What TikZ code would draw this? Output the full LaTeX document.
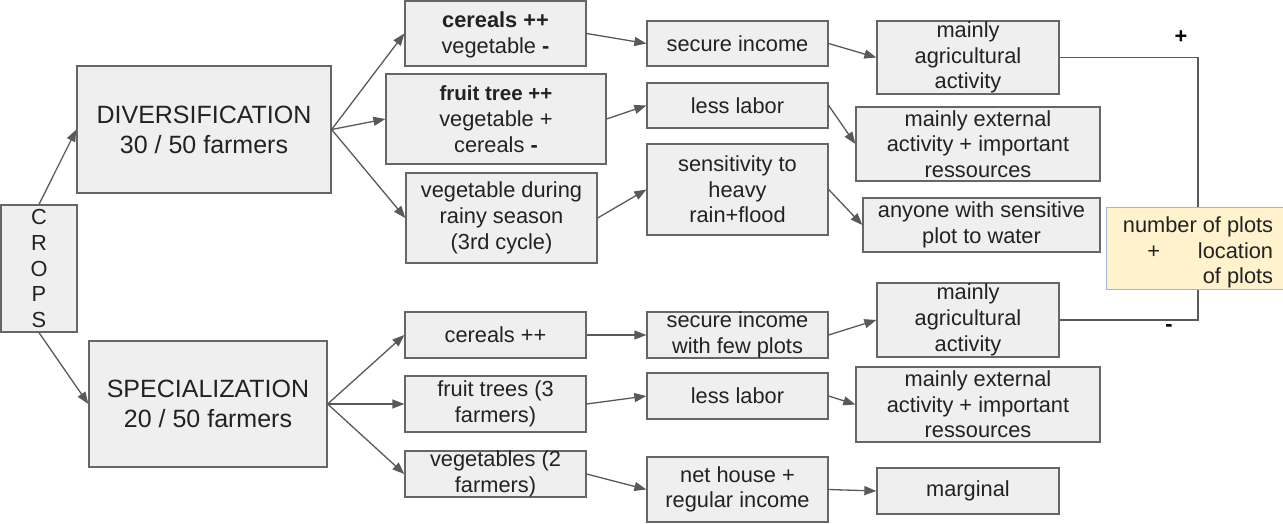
\documentclass[tikz,border=0pt]{standalone}
\usepackage{fontspec}
\setmainfont{Liberation Sans}
\usetikzlibrary{arrows.meta}
\definecolor{boxfill}{HTML}{EFEFEF}
\definecolor{boxline}{HTML}{666666}
\definecolor{arr}{HTML}{595959}
\definecolor{yfill}{HTML}{FFF2CC}
\definecolor{yline}{HTML}{9FB6E3}
\definecolor{txt}{HTML}{222222}
\begin{document}
\begin{tikzpicture}[x=1pt,y=-1pt,
 box/.style={draw=boxline, fill=boxfill, line width=1.3pt, inner sep=0pt, align=center,
   font=\fontsize{21.8}{25.7}\selectfont, text=txt},
 big/.style={box, font=\fontsize{25}{30}\selectfont},
 conn/.style={draw=arr, line width=1.3pt, -{Triangle[length=12pt,width=9pt]}},
 link/.style={draw=arr, line width=1.1pt},
 sign/.style={font=\fontsize{21.8}{25.7}\selectfont\bfseries, text=black, inner sep=0pt}]
\useasboundingbox (0,0) rectangle (1283,524);
% left column
\node[box, minimum width=76pt, minimum height=127pt] (crops) at (39,268.5) {C\\R\\O\\P\\S};
\node[big, minimum width=254pt, minimum height=127pt] (div) at (204,129.5) {DIVERSIFICATION\\30 / 50 farmers};
\node[big, minimum width=238pt, minimum height=126pt] (spec) at (208,404) {SPECIALIZATION\\20 / 50 farmers};
% top middle
\node[box, minimum width=181pt, minimum height=65pt] (c1) at (495.5,33.5) {\rule{0pt}{19pt}\textbf{cereals ++}\\vegetable \textbf{-}};
\node[box, minimum width=220pt, minimum height=90pt] (f1) at (496,119) {{\fontsize{20.5}{25.7}\selectfont\textbf{fruit tree ++}}\\vegetable +\\cereals \textbf{-}};
\node[box, minimum width=191pt, minimum height=90pt] (v1) at (501.5,218) {vegetable during\\rainy season\\(3rd cycle)};
\node[box, minimum width=181pt, minimum height=45pt] (s1) at (737.5,43.5) {secure income};
\node[box, minimum width=181pt, minimum height=45pt] (l1) at (737.5,105.5) {less labor};
\node[box, minimum width=181pt, minimum height=91pt] (sen1) at (737.5,189.5) {sensitivity to\\heavy\\rain+flood};
\node[box, minimum width=182pt, minimum height=73pt] (a1) at (968,57.5) {mainly\\agricultural\\activity};
\node[box, minimum width=244pt, minimum height=74pt] (e1) at (978,144) {mainly external\\activity + important\\ressources};
\node[box, minimum width=237pt, minimum height=54pt] (any1) at (981.5,225) {anyone with sensitive\\plot to water};
% yellow box
\node[draw=yline, fill=yfill, line width=1pt, inner sep=0pt, minimum width=184pt,
  minimum height=82pt, align=right, font=\fontsize{21.8}{25.7}\selectfont, text=txt] (y) at (1198,248)
  {\rule{0pt}{25pt}number of plots\\+\hspace{38pt}location\\of plots};
% bottom middle
\node[box, minimum width=181pt, minimum height=46pt] (c2) at (495.5,335) {cereals ++};
\node[box, minimum width=181pt, minimum height=56pt] (f2) at (495.5,404) {fruit trees (3\\farmers)};
\node[box, minimum width=181pt, minimum height=46pt] (v2) at (495.5,474) {vegetables (2\\farmers)};
\node[box, minimum width=181pt, minimum height=46pt] (s2) at (737.5,335) {secure income\\with few plots};
\node[box, minimum width=181pt, minimum height=46pt] (l2) at (737.5,396) {less labor};
\node[box, minimum width=181pt, minimum height=65pt] (n2) at (737.5,489.5) {net house +\\regular income};
\node[box, minimum width=182pt, minimum height=74pt] (a2) at (968,320) {mainly\\agricultural\\activity};
\node[box, minimum width=244pt, minimum height=75pt] (e2) at (978,404.5) {mainly external\\activity + important\\ressources};
\node[box, minimum width=182pt, minimum height=46pt] (m2) at (968,491) {marginal};
% signs
\node[sign] (plus) at (1181,37) {+};
\node[sign] (minus) at (1169,328) {-};
% connectors
\draw[conn] (crops.north) -- (div.west);
\draw[conn] (crops.south) -- (spec.west);
\draw[conn] (div.east) -- (c1.west);
\draw[conn] (div.east) -- (f1.west);
\draw[conn] (div.east) -- (v1.west);
\draw[conn] (c1.east) -- (s1.west);
\draw[conn] (f1.east) -- (l1.west);
\draw[conn] (v1.east) -- (sen1.west);
\draw[conn] (s1.east) -- (a1.west);
\draw[conn] (l1.east) -- (e1.west);
\draw[conn] (sen1.east) -- (any1.west);
\draw[conn] (spec.east) -- (c2.west);
\draw[conn] (spec.east) -- (f2.west);
\draw[conn] (spec.east) -- (v2.west);
\draw[conn] (c2.east) -- (s2.west);
\draw[conn] (f2.east) -- (l2.west);
\draw[conn] (v2.east) -- (n2.west);
\draw[conn] (s2.east) -- (a2.west);
\draw[conn] (l2.east) -- (e2.west);
\draw[conn] (n2.east) -- (m2.west);
\draw[link] (a1.east) -| (y.north);
\draw[link] (a2.east) -| (y.south);
\end{tikzpicture}
\end{document}
